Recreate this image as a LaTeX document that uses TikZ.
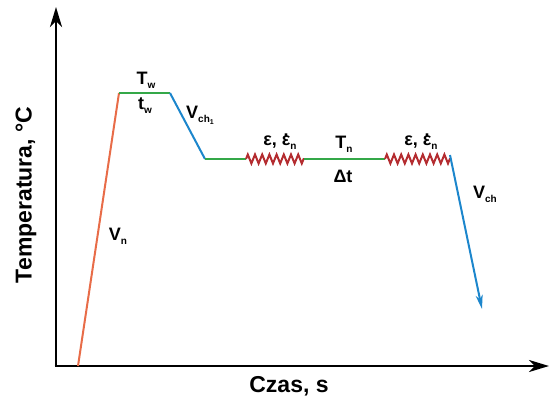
\documentclass[tikz,border=0pt]{standalone}
\usepackage{fontspec}
\setmainfont{Liberation Sans}
\usetikzlibrary{arrows.meta,decorations.pathmorphing}
\definecolor{rampred}{RGB}{232,108,72}
\definecolor{holdgreen}{RGB}{52,168,72}
\definecolor{coolblue}{RGB}{28,134,204}
\definecolor{springred}{RGB}{180,44,48}
\newcommand{\lsub}[1]{\raisebox{-0.4ex}{\fontsize{10}{11}\selectfont #1}}
\newcommand{\edotchar}{\ooalign{ε\cr\hidewidth\raisebox{0.5em}{.}\hidewidth\cr}}
\begin{document}
\begin{tikzpicture}[x=1pt,y=-1pt,
  axisline/.style={line width=2.6pt,black},
  axtip/.style={-{Stealth[length=20pt,width=12pt,inset=6pt]}},
  curveline/.style={line width=2pt},
  spring/.style={curveline,springred,decorate,decoration={zigzag,segment length=7.2pt,amplitude=4.5pt}},
  lbl/.style={font=\fontsize{18}{20}\selectfont\bfseries,inner sep=0pt},
  axlbl/.style={font=\fontsize{23}{26}\selectfont\bfseries,inner sep=0pt}]
\useasboundingbox (0,0) rectangle (549,399);
% axes
\coordinate (O) at (56,366);
\coordinate (Ytop) at (56,7);
\coordinate (Xend) at (549,366);
\draw[axisline,axtip] (O) -- (Ytop);
\draw[axisline,axtip] ([xshift=-1.3pt]O) -- (Xend);
% profile points
\coordinate (p0) at (78,366);
\coordinate (p1) at (119,93);
\coordinate (p2) at (170,93);
\coordinate (p3) at (205,159);
\coordinate (p4) at (246,159);
\coordinate (p5) at (304,159);
\coordinate (p6) at (385,159);
\coordinate (p7) at (450,159);
\coordinate (p8) at (450,155);
\coordinate (p9) at (482,309);
\draw[curveline,rampred] (p0) -- (p1);
\draw[curveline,holdgreen] (p1) -- (p2);
\draw[curveline,coolblue] (p2) -- (p3);
\draw[curveline,holdgreen] (p3) -- (p4);
\draw[spring] (p4) -- (p5);
\draw[curveline,holdgreen] (p5) -- (p6);
\draw[spring] (p6) -- (p7);
\draw[curveline,coolblue,-{Stealth[length=14pt,width=7pt,inset=4pt]}] (p8) -- (p9);
% labels
\node[lbl] (Tw) at (146,80) {T\lsub{w}};
\node[lbl] (tw) at (145,106) {t\lsub{w}};
\node[lbl] (Vch1) at (200,115) {V\raisebox{-0.4ex}{\fontsize{10}{11}\selectfont ch\raisebox{-0.35ex}{\fontsize{7}{8}\selectfont 1}}};
\node[lbl] (Vn) at (118,236) {V\lsub{n}};
\node[lbl] (eps1) at (280,143) {ε, \edotchar\lsub{n}};
\node[lbl] (Tn) at (344,144) {T\lsub{n}};
\node[lbl] (dt) at (343,176) {Δt};
\node[lbl] (eps2) at (421,143) {ε, \edotchar\lsub{n}};
\node[lbl] (Vch) at (485,194) {V\lsub{ch}};
\node[axlbl,rotate=90] (ylab) at (26,195) {Temperatura, °C};
\node[axlbl] (xlab) at (289,386) {Czas, s};
\end{tikzpicture}
\end{document}
